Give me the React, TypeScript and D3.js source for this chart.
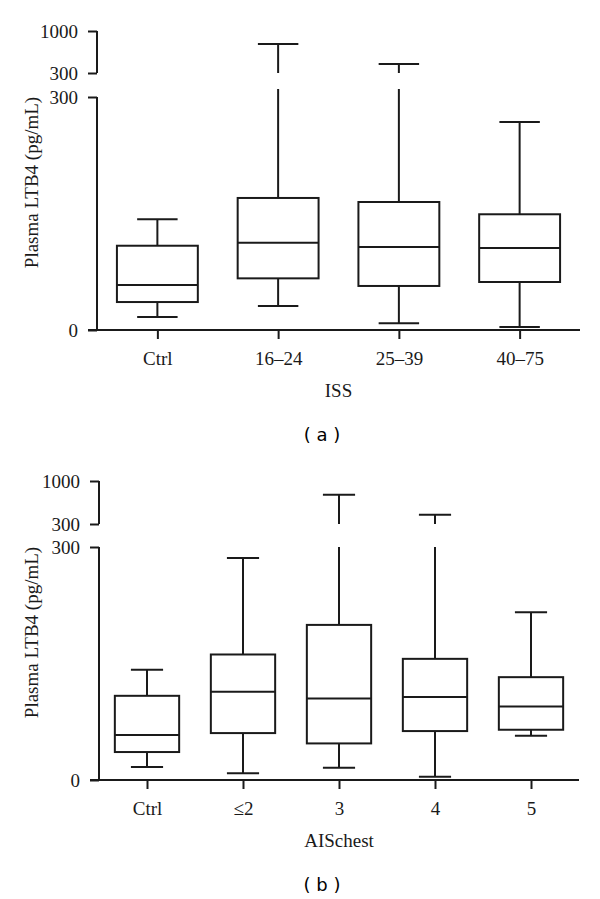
import React, { useEffect, useRef } from 'react';
import * as d3 from 'd3';

// panel (a): ISS groups
const issGroups = ['Ctrl', '16–24', '25–39', '40–75'];
const issMin = [16.7, 31, 8.6, 3.9];
const issQ1 = [36, 66.5, 56.7, 61.8];
const issMedian = [58, 112.4, 107, 105.6];
const issQ3 = [108.5, 170, 164.8, 149];
const issMax = [142.5, 783, 450, 267.8];

// panel (b): AIS chest groups
const aisGroups = ['Ctrl', '≤2', '3', '4', '5'];
const aisMin = [16.7, 8.6, 15.9, 4.3, 57];
const aisQ1 = [36, 60.4, 47.1, 63, 64.7];
const aisMedian = [57.9, 113.6, 105, 107, 94.7];
const aisQ3 = [108.4, 161.6, 199.7, 156, 132.4];
const aisMax = [141.8, 285.9, 777, 451, 216];

const lowTicks = [0, 300];
const highTicks = [300, 1000];

interface PanelOpts {
  groups: string[];
  mins: number[];
  q1s: number[];
  medians: number[];
  q3s: number[];
  maxs: number[];
  top: number; // y of the 1000 tick
  highBottom: number; // y of upper 300 tick
  lowTop: number; // y of lower 300 tick
  zero: number; // y of 0
  left: number;
  right: number;
  overshoot: number;
  xTitle: string;
  tag: string;
}

const INK = '#1a1a1a';
const SERIF = '"Liberation Serif", "Times New Roman", serif';
const FS = 19;

function drawPanel(svg: d3.Selection<SVGSVGElement, unknown, null, undefined>, o: PanelOpts) {
  const g = svg.append('g');
  const x = d3.scalePoint<string>().domain(o.groups).range([o.left, o.right]).padding(0.5);
  const step = x.step();
  const boxW = step * 0.67;
  const capW = boxW / 2;

  const yLow = d3.scaleLinear().domain([0, 300]).range([o.zero, o.lowTop]);
  const yHigh = d3.scaleLinear().domain([300, 1000]).range([o.highBottom, o.top]);

  // y axis, lower segment
  g.append('g')
    .attr('transform', `translate(${o.left},0)`)
    .call(d3.axisLeft(yLow).tickValues(lowTicks).tickSize(9).tickPadding(10).tickSizeOuter(0).tickFormat(d3.format('d')))
    .call(s => s.select('.domain').remove());
  g.append('line')
    .attr('x1', o.left).attr('x2', o.left)
    .attr('y1', o.zero).attr('y2', o.lowTop)
    .attr('stroke', INK).attr('stroke-width', 2);

  // y axis, upper segment
  g.append('g')
    .attr('transform', `translate(${o.left},0)`)
    .call(d3.axisLeft(yHigh).tickValues(highTicks).tickSize(9).tickPadding(10).tickSizeOuter(0).tickFormat(d3.format('d')))
    .call(s => s.select('.domain').remove());
  g.append('line')
    .attr('x1', o.left).attr('x2', o.left)
    .attr('y1', o.highBottom).attr('y2', o.top)
    .attr('stroke', INK).attr('stroke-width', 2);

  // x axis
  g.append('g')
    .attr('transform', `translate(0,${o.zero})`)
    .call(d3.axisBottom(x).tickSize(9).tickSizeOuter(0).tickPadding(13))
    .call(s => s.select('.domain').remove());
  g.append('line')
    .attr('x1', o.left - 9).attr('x2', o.right)
    .attr('y1', o.zero).attr('y2', o.zero)
    .attr('stroke', INK).attr('stroke-width', 2);

  g.selectAll('.tick line').attr('stroke', INK).attr('stroke-width', 2);
  g.selectAll('.tick text')
    .attr('fill', INK)
    .attr('font-family', SERIF)
    .attr('font-size', FS);

  // boxes
  o.groups.forEach((name, i) => {
    const cx = x(name) as number;
    const b = g.append('g').attr('stroke', INK).attr('stroke-width', 2).attr('fill', 'none');
    const q1 = yLow(o.q1s[i]);
    const q3 = yLow(o.q3s[i]);
    b.append('rect')
      .attr('x', cx - boxW / 2).attr('y', q3)
      .attr('width', boxW).attr('height', q1 - q3);
    b.append('line')
      .attr('x1', cx - boxW / 2).attr('x2', cx + boxW / 2)
      .attr('y1', yLow(o.medians[i])).attr('y2', yLow(o.medians[i]));
    // lower whisker
    b.append('line')
      .attr('x1', cx).attr('x2', cx)
      .attr('y1', q1).attr('y2', yLow(o.mins[i]));
    b.append('line')
      .attr('x1', cx - capW / 2).attr('x2', cx + capW / 2)
      .attr('y1', yLow(o.mins[i])).attr('y2', yLow(o.mins[i]));
    // upper whisker
    const mx = o.maxs[i];
    if (mx > 300) {
      b.append('line')
        .attr('x1', cx).attr('x2', cx)
        .attr('y1', q3).attr('y2', yLow(300) - o.overshoot);
      b.append('line')
        .attr('x1', cx).attr('x2', cx)
        .attr('y1', yHigh(300)).attr('y2', yHigh(mx));
      b.append('line')
        .attr('x1', cx - capW / 2).attr('x2', cx + capW / 2)
        .attr('y1', yHigh(mx)).attr('y2', yHigh(mx));
    } else {
      b.append('line')
        .attr('x1', cx).attr('x2', cx)
        .attr('y1', q3).attr('y2', yLow(mx));
      b.append('line')
        .attr('x1', cx - capW / 2).attr('x2', cx + capW / 2)
        .attr('y1', yLow(mx)).attr('y2', yLow(mx));
    }
  });

  // titles
  g.append('text')
    .attr('x', (o.left + o.right) / 2)
    .attr('y', o.zero + 67)
    .attr('text-anchor', 'middle')
    .attr('font-family', SERIF)
    .attr('font-size', FS)
    .attr('fill', INK)
    .text(o.xTitle);

  g.append('text')
    .attr('transform', `translate(38,${(o.top + o.zero) / 2 + 2}) rotate(-90)`)
    .attr('text-anchor', 'middle')
    .attr('font-family', SERIF)
    .attr('font-size', FS)
    .attr('fill', INK)
    .text('Plasma LTB4 (pg/mL)');

  g.append('text')
    .attr('x', 322)
    .attr('y', o.zero + 111)
    .attr('text-anchor', 'middle')
    .attr('font-family', '"DejaVu Sans", sans-serif')
    .attr('font-size', 18)
    .attr('fill', '#000')
    .text(o.tag);
}

export default function App() {
  const ref = useRef<SVGSVGElement>(null);

  useEffect(() => {
    if (!ref.current) return;
    const svg = d3.select(ref.current);
    svg.selectAll('*').remove();

    drawPanel(svg, {
      groups: issGroups, mins: issMin, q1s: issQ1, medians: issMedian, q3s: issQ3, maxs: issMax,
      top: 31, highBottom: 73, lowTop: 97, zero: 330,
      left: 97, right: 580, overshoot: 8,
      xTitle: 'ISS', tag: '( a )',
    });

    drawPanel(svg, {
      groups: aisGroups, mins: aisMin, q1s: aisQ1, medians: aisMedian, q3s: aisQ3, maxs: aisMax,
      top: 481, highBottom: 524, lowTop: 547, zero: 780,
      left: 99, right: 579, overshoot: 0,
      xTitle: 'AISchest', tag: '( b )',
    });
  }, []);

  return (
    <svg
      ref={ref}
      width={600}
      height={899}
      style={{ position: 'absolute', left: 0, top: 0, background: '#fff' }}
    />
  );
}
